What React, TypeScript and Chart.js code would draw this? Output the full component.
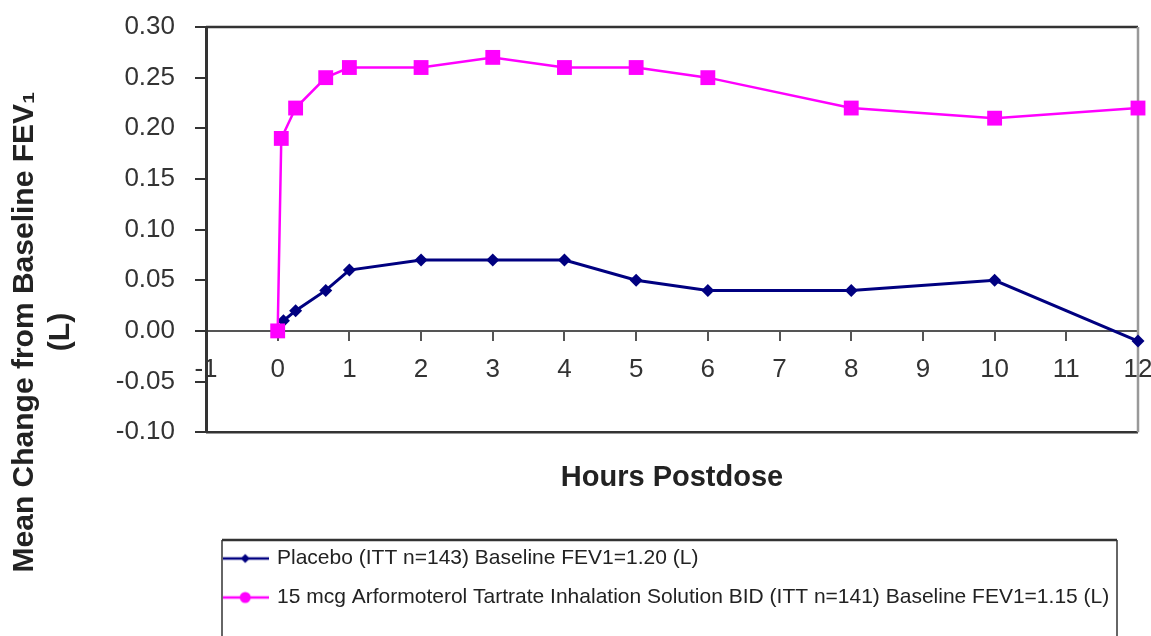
import React, { useEffect, useRef } from 'react';
import { Chart, registerables } from 'chart.js';

Chart.register(...registerables);

// ---- data ----
const placeboHours = [0, 0.08, 0.25, 0.67, 1, 2, 3, 4, 5, 6, 8, 10, 12];
const placeboValues = [0.0, 0.01, 0.02, 0.04, 0.06, 0.07, 0.07, 0.07, 0.05, 0.04, 0.04, 0.05, -0.01];
const arformoterolHours = [0, 0.05, 0.25, 0.67, 1, 2, 3, 4, 5, 6, 8, 10, 12];
const arformoterolValues = [0.0, 0.19, 0.22, 0.25, 0.26, 0.26, 0.27, 0.26, 0.26, 0.25, 0.22, 0.21, 0.22];
const seriesLabels = [
  'Placebo (ITT n=143) Baseline FEV1=1.20 (L)',
  '15 mcg Arformoterol Tartrate Inhalation Solution BID (ITT n=141) Baseline FEV1=1.15 (L)',
];
const seriesColors = ['#000080', '#FF00FF'];
const xRange = [-1, 12];
const yRange = [-0.1, 0.3];
const yStep = 0.05;
const xTitle = 'Hours Postdose';
const yTitleLines = ['Mean Change from Baseline FEV\u2081', '(L)'];

const FONT = '"Liberation Sans", Arial, Helvetica, sans-serif';

function legendIcon(color: string, kind: 'diamond' | 'square'): HTMLCanvasElement {
  const c = document.createElement('canvas');
  c.width = 48;
  c.height = 16;
  const g = c.getContext('2d')!;
  g.strokeStyle = color;
  g.lineWidth = 2.5;
  g.beginPath();
  g.moveTo(0, 8);
  g.lineTo(48, 8);
  g.stroke();
  g.fillStyle = color;
  g.beginPath();
  if (kind === 'diamond') {
    g.moveTo(24, 3.5);
    g.lineTo(28.5, 8);
    g.lineTo(24, 12.5);
    g.lineTo(19.5, 8);
    g.closePath();
  } else {
    g.arc(24, 8, 5.5, 0, Math.PI * 2);
  }
  g.fill();
  return c;
}

const decorPlugin = {
  id: 'decor',
  beforeDatasetsDraw(chart: any) {
    const { ctx, chartArea: a } = chart;
    ctx.save();
    ctx.lineWidth = 2.5;
    ctx.strokeStyle = '#333';
    ctx.beginPath();
    ctx.moveTo(a.left, a.top);
    ctx.lineTo(a.right, a.top);
    ctx.moveTo(a.left, a.bottom);
    ctx.lineTo(a.right, a.bottom);
    ctx.stroke();
    ctx.strokeStyle = '#999';
    ctx.beginPath();
    ctx.moveTo(a.right, a.top);
    ctx.lineTo(a.right, a.bottom);
    ctx.stroke();
    ctx.restore();
  },
  afterDraw(chart: any) {
    const { ctx } = chart;
    ctx.save();
    // y axis title (centred on the whole figure, as in the reference)
    ctx.fillStyle = '#222';
    ctx.font = `bold 30px ${FONT}`;
    ctx.textAlign = 'center';
    ctx.textBaseline = 'alphabetic';
    const baselines = [33, 69];
    yTitleLines.forEach((t, i) => {
      ctx.save();
      ctx.translate(baselines[i], 332);
      ctx.rotate(-Math.PI / 2);
      ctx.fillText(t, 0, 0);
      ctx.restore();
    });
    // legend frame
    const lg = chart.legend;
    if (lg) {
      const x0 = lg.left + 16;
      const y0 = lg.top + 10;
      const x1 = lg.right - 21;
      const y1 = chart.height + 10;
      ctx.lineWidth = 2;
      ctx.strokeStyle = '#666';
      ctx.beginPath();
      ctx.moveTo(x1, y0);
      ctx.lineTo(x1, y1);
      ctx.moveTo(x0, y0);
      ctx.lineTo(x0, y1);
      ctx.stroke();
      ctx.lineWidth = 2.5;
      ctx.strokeStyle = '#333';
      ctx.beginPath();
      ctx.moveTo(x0, y0);
      ctx.lineTo(x1, y0);
      ctx.stroke();
    }
    ctx.restore();
  },
};

export default function App() {
  const ref = useRef<HTMLCanvasElement | null>(null);

  useEffect(() => {
    document.body.style.margin = '0';
    const icons = [legendIcon(seriesColors[0], 'diamond'), legendIcon(seriesColors[1], 'square')];
    const chart = new Chart(ref.current!, {
      type: 'line',
      data: {
        datasets: [
          {
            label: seriesLabels[0],
            data: placeboHours.map((h, i) => ({ x: h, y: placeboValues[i] })),
            borderColor: seriesColors[0],
            backgroundColor: seriesColors[0],
            borderWidth: 3,
            pointStyle: 'rectRot',
            pointRadius: 6.5,
            pointBorderWidth: 0,
            order: 1,
            clip: false as any,
          },
          {
            label: seriesLabels[1],
            data: arformoterolHours.map((h, i) => ({ x: h, y: arformoterolValues[i] })),
            borderColor: seriesColors[1],
            backgroundColor: seriesColors[1],
            borderWidth: 2.5,
            pointStyle: 'rect',
            pointRadius: 10.5,
            pointBorderWidth: 0,
            order: 0,
            clip: false as any,
          },
        ],
      },
      options: {
        animation: false,
        responsive: true,
        maintainAspectRatio: false,
        layout: { padding: { left: 0, top: 27, right: 13, bottom: 18 } },
        plugins: {
          tooltip: { enabled: false },
          legend: {
            position: 'bottom',
            align: 'start',
            fullSize: false,
            labels: {
              usePointStyle: true,
              pointStyleWidth: 42.5,
              padding: 18,
              color: '#222',
              font: { family: FONT, size: 21 },
              sort: (a: any, b: any) => a.datasetIndex - b.datasetIndex,
              generateLabels: (c: any) => {
                const items = (Chart.defaults.plugins.legend.labels as any).generateLabels(c);
                return items.map((it: any) => ({
                  ...it,
                  pointStyle: icons[it.datasetIndex],
                  rotation: 0,
                  fontColor: '#222',
                }));
              },
            },
          },
        },
        scales: {
          x: {
            type: 'linear',
            position: { y: 0 } as any,
            min: xRange[0],
            max: xRange[1],
            ticks: {
              stepSize: 1,
              autoSkip: false,
              maxRotation: 0,
              padding: 14,
              color: '#333',
              font: { family: FONT, size: 26 },
            },
            grid: { drawOnChartArea: false, tickLength: 9, color: '#555', lineWidth: 2 },
            border: { display: true, color: '#555', width: 2 },
            afterFit: (s: any) => {
              s.paddingLeft = 0;
              s.paddingRight = 0;
              s.paddingTop = 0;
              s.paddingBottom = 0;
            },
          },
          xTitleAxis: {
            type: 'linear',
            position: 'bottom',
            display: true,
            ticks: { display: false },
            grid: { display: false, drawTicks: false },
            border: { display: false },
            title: {
              display: true,
              text: xTitle,
              color: '#222',
              font: { family: FONT, size: 29, weight: 'bold' },
              padding: { top: 28, bottom: 35 },
            },
          },
          y: {
            type: 'linear',
            min: yRange[0],
            max: yRange[1],
            ticks: {
              stepSize: yStep,
              padding: 20,
              color: '#333',
              font: { family: FONT, size: 26 },
              callback: (v: any) => (Math.abs(Number(v)) < 1e-9 ? '0.00' : Number(v).toFixed(2)),
            },
            grid: { drawOnChartArea: false, tickLength: 11, color: '#333', lineWidth: 2 },
            border: { display: true, color: '#333', width: 3 },
            afterFit: (s: any) => {
              s.width = 206;
              s.paddingTop = 0;
              s.paddingBottom = 0;
            },
          },
        },
      },
      plugins: [decorPlugin],
    } as any);
    return () => chart.destroy();
  }, []);

  return (
    <div style={{ position: 'relative', width: 1151, height: 636, background: '#fff' }}>
      <canvas ref={ref} />
    </div>
  );
}
